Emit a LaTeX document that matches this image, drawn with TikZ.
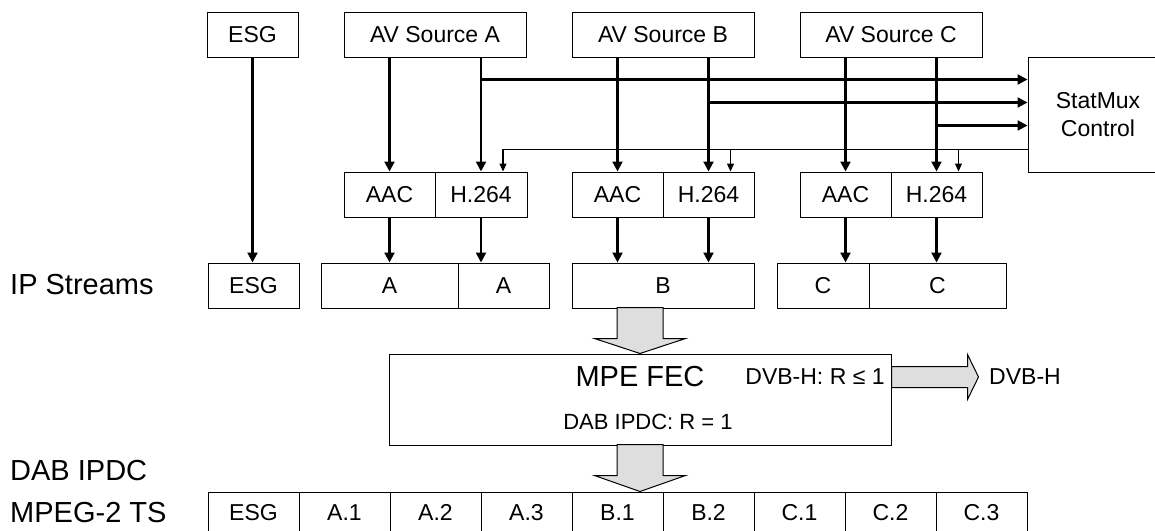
\documentclass[tikz,border=0pt]{standalone}
\usepackage{fontspec}
\setmainfont{Liberation Sans}
\usetikzlibrary{arrows.meta,calc}
\tikzset{
  frame/.style={draw, line width=1pt, inner sep=0pt, font=\fontsize{23}{28}\selectfont},
  box/.style={frame, minimum height=45pt, text height=16.5pt, text depth=0pt},
  arr/.style={line width=2.2pt, -{Triangle[length=10pt,width=10pt]}},
  fbarr/.style={line width=1.2pt, -{Triangle[length=8pt,width=7pt]}},
  lbl/.style={anchor=base west, inner sep=0pt, font=\fontsize{29}{33}\selectfont},
  txt/.style={inner sep=0pt, font=\fontsize{23}{28}\selectfont},
  grayarrow/.style={draw, line width=1pt, fill=black!13},
}
\begin{document}
\begin{tikzpicture}[x=1pt,y=-1pt]
\useasboundingbox (0,0) rectangle (1155,530);
\clip (0,0) rectangle (1155,530);
% top row
\node[box, minimum width=91pt]  (esg) at (252.5,34.5) {ESG};
\node[box, minimum width=182pt] (ava) at (435,34.5) {AV Source A};
\node[box, minimum width=182pt] (avb) at (663,34.5) {AV Source B};
\node[box, minimum width=182pt] (avc) at (891,34.5) {AV Source C};
\node[frame, minimum width=140pt, minimum height=115pt, align=center] (sm) at (1098,114.5) {StatMux\\Control};
% encoders
\node[box, minimum width=91pt] (aaca) at (389.5,194.5) {AAC};
\node[box, minimum width=92pt] (ha)   at (481,194.5) {H.264};
\node[box, minimum width=91pt] (aacb) at (617.5,194.5) {AAC};
\node[box, minimum width=91pt] (hb)   at (708.5,194.5) {H.264};
\node[box, minimum width=91pt] (aacc) at (845.5,194.5) {AAC};
\node[box, minimum width=91pt] (hc)   at (936.5,194.5) {H.264};
% IP streams
\node[box, minimum width=91pt]  (esgip) at (253.5,285.5) {ESG};
\node[box, minimum width=137pt] (ipa1)  at (389.5,285.5) {A};
\node[box, minimum width=91pt]  (ipa2)  at (503.5,285.5) {A};
\node[box, minimum width=182pt] (ipb)   at (663,285.5) {B};
\node[box, minimum width=92pt]  (ipc1)  at (823,285.5) {C};
\node[box, minimum width=137pt] (ipc2)  at (937.5,285.5) {C};
% MPE FEC
\node[draw, line width=1pt, minimum width=502pt, minimum height=91pt, inner sep=0pt] (mpe) at (640,399.5) {};
\node[inner sep=0pt, font=\fontsize{29}{33}\selectfont] (mpet) at (640,377) {MPE FEC};
\node[inner sep=0pt, font=\fontsize{22}{27}\selectfont] (dabr) at (648,422) {DAB IPDC: R = 1};
\node[txt] (dvbr) at (815,377) {DVB-H: R ≤ 1};
\node[txt, anchor=west] (dvbh) at (989,377) {DVB-H};
% TS row
\foreach \t [count=\i] in {ESG,A.1,A.2,A.3,B.1,B.2,C.1,C.2,C.3}{
  \node[box, minimum width=91pt, minimum height=40pt] (ts\i) at ({208+45.5+91*(\i-1)},512) {\t};
}
% labels
\node[lbl] (lip)  at (10,294) {IP Streams};
\node[lbl] (ldab) at (10,480) {DAB IPDC};
\node[lbl] (lts)  at (10,522) {MPEG-2 TS};
% source arrows
\draw[arr] (esg.south) -- (esg.south |- esgip.north);
\draw[arr] (aaca |- ava.south) -- (aaca.north);
\draw[arr] (ha |- ava.south) -- (ha.north);
\draw[arr] (aacb |- avb.south) -- (aacb.north);
\draw[arr] (hb |- avb.south) -- (hb.north);
\draw[arr] (aacc |- avc.south) -- (aacc.north);
\draw[arr] (hc |- avc.south) -- (hc.north);
% to StatMux
\coordinate (in1) at ($(sm.north west)+(0,23)$);
\coordinate (in2) at ($(sm.north west)+(0,46)$);
\coordinate (in3) at ($(sm.north west)+(0,69)$);
\draw[arr] (ha |- in1) -- (in1);
\draw[arr] (hb |- in2) -- (in2);
\draw[arr] (hc |- in3) -- (in3);
% feedback
\coordinate (fbs) at ($(sm.south west)+(0,-23)$);
\coordinate (fa) at ($(ha.north)+(22,0)$);
\coordinate (fb) at ($(hb.north)+(22,0)$);
\coordinate (fc) at ($(hc.north)+(22,0)$);
\draw[fbarr] (fbs) -- (fa |- fbs) -- (fa);
\draw[fbarr] (fb |- fbs) -- (fb);
\draw[fbarr] (fc |- fbs) -- (fc);
% to IP streams
\draw[arr] (aaca.south) -- (aaca.south |- ipa1.north);
\draw[arr] (ha.south) -- (ha.south |- ipa2.north);
\draw[arr] (aacb.south) -- (aacb.south |- ipb.north);
\draw[arr] (hb.south) -- (hb.south |- ipb.north);
\draw[arr] (aacc.south) -- (aacc.south |- ipc1.north);
\draw[arr] (hc.south) -- (hc.south |- ipc2.north);
% block arrows
\coordinate (t1) at (mpe.north);
\draw[grayarrow] ($(t1)+(-23,-46)$) -- ($(t1)+(23,-46)$) -- ($(t1)+(23,-15)$) -- ($(t1)+(45.5,-15)$) -- (t1) -- ($(t1)+(-45.5,-15)$) -- ($(t1)+(-23,-15)$) -- cycle;
\coordinate (t2) at (mpe.south |- ts1.north);
\draw[grayarrow] ($(t2)+(-23,-47)$) -- ($(t2)+(23,-47)$) -- ($(t2)+(23,-16)$) -- ($(t2)+(45.5,-16)$) -- (t2) -- ($(t2)+(-45.5,-16)$) -- ($(t2)+(-23,-16)$) -- cycle;
\coordinate (t3) at ($(mpe.east |- mpet.center)+(87,0)$);
\draw[grayarrow] ($(t3)+(-87,-10.5)$) -- ($(t3)+(-11,-10.5)$) -- ($(t3)+(-11,-22.5)$) -- (t3) -- ($(t3)+(-11,22.5)$) -- ($(t3)+(-11,10.5)$) -- ($(t3)+(-87,10.5)$) -- cycle;
\end{tikzpicture}
\end{document}
